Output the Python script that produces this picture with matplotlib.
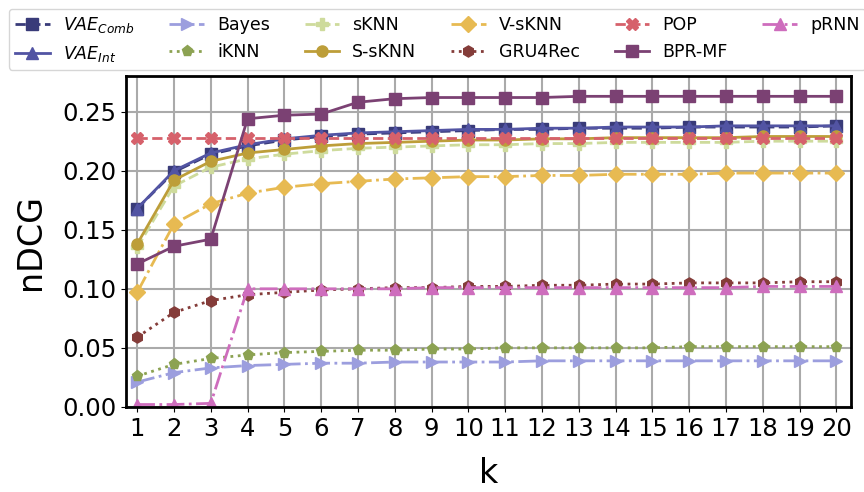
import matplotlib
matplotlib.use("Agg")
import matplotlib.pyplot as plt

k = list(range(1, 21))

vae_comb = [0.168, 0.199, 0.214, 0.221, 0.226, 0.229, 0.231, 0.232, 0.233, 0.234,
            0.235, 0.235, 0.236, 0.236, 0.236, 0.237, 0.237, 0.237, 0.237, 0.238]
vae_int = [0.168, 0.200, 0.215, 0.222, 0.227, 0.230, 0.232, 0.233, 0.234, 0.235,
           0.235, 0.236, 0.236, 0.237, 0.237, 0.237, 0.238, 0.238, 0.238, 0.238]
bayes = [0.021, 0.029, 0.033, 0.035, 0.036, 0.037, 0.037, 0.038, 0.038, 0.038,
         0.038, 0.039, 0.039, 0.039, 0.039, 0.039, 0.039, 0.039, 0.039, 0.039]
iknn = [0.026, 0.036, 0.041, 0.044, 0.046, 0.047, 0.048, 0.048, 0.049, 0.049,
        0.050, 0.050, 0.050, 0.050, 0.050, 0.051, 0.051, 0.051, 0.051, 0.051]
sknn = [0.135, 0.187, 0.203, 0.210, 0.214, 0.217, 0.219, 0.220, 0.221, 0.222,
        0.222, 0.223, 0.223, 0.224, 0.224, 0.224, 0.224, 0.225, 0.225, 0.225]
s_sknn = [0.138, 0.192, 0.208, 0.215, 0.218, 0.221, 0.223, 0.224, 0.225, 0.226,
          0.226, 0.227, 0.227, 0.228, 0.228, 0.228, 0.228, 0.229, 0.229, 0.229]
v_sknn = [0.097, 0.155, 0.172, 0.181, 0.186, 0.189, 0.191, 0.193, 0.194, 0.195,
          0.195, 0.196, 0.196, 0.197, 0.197, 0.197, 0.198, 0.198, 0.198, 0.198]
gru4rec = [0.059, 0.080, 0.090, 0.095, 0.097, 0.099, 0.100, 0.101, 0.101, 0.102,
           0.102, 0.103, 0.103, 0.104, 0.104, 0.105, 0.105, 0.105, 0.106, 0.106]
pop = [0.228] * 20
bpr_mf = [0.121, 0.136, 0.142, 0.244, 0.247, 0.248, 0.258, 0.261, 0.262, 0.262,
          0.262, 0.262, 0.263, 0.263, 0.263, 0.263, 0.263, 0.263, 0.263, 0.263]
prnn = [0.002, 0.002, 0.003, 0.100, 0.100, 0.100, 0.100, 0.100, 0.101, 0.101,
        0.101, 0.101, 0.101, 0.101, 0.101, 0.101, 0.101, 0.102, 0.102, 0.102]

series = [
    (r"$VAE_{Comb}$", vae_comb, "#393b79", "--", "s"),
    (r"$VAE_{Int}$", vae_int, "#5254a3", "-", "^"),
    ("Bayes", bayes, "#9c9ede", "-.", ">"),
    ("iKNN", iknn, "#8ca252", ":", "p"),
    ("sKNN", sknn, "#cedb9c", "--", "P"),
    ("S-sKNN", s_sknn, "#bd9e39", "-", "o"),
    ("V-sKNN", v_sknn, "#e7ba52", "-.", "D"),
    ("GRU4Rec", gru4rec, "#843c39", ":", "h"),
    ("POP", pop, "#d6616b", "--", "X"),
    ("BPR-MF", bpr_mf, "#7b4173", "-", "s"),
    ("pRNN", prnn, "#ce6dbd", "-.", "^"),
]

fig = plt.figure(figsize=(8.64, 4.92), dpi=100)
ax = fig.add_axes([0.146, 0.173, 0.839, 0.672])

for label, vals, color, ls, mk in series:
    ax.plot(k, vals, linestyle=ls, marker=mk, color=color, label=label,
            linewidth=2, markersize=8)

ax.set_xlim(0.7, 20.4)
ax.set_ylim(0, 0.28)
ax.set_xticks(k)
ax.set_yticks([0.0, 0.05, 0.10, 0.15, 0.20, 0.25])
ax.tick_params(axis="both", labelsize=17.5)
ax.set_xlabel("k", fontsize=24, labelpad=12)
ax.set_ylabel("nDCG", fontsize=24, labelpad=11)
ax.grid(True, color="#aaaaaa", linewidth=1.5)
ax.set_axisbelow(True)
for sp in ax.spines.values():
    sp.set_linewidth(2)

fig.legend(loc="upper left", bbox_to_anchor=(9 / 864, 1 - 9 / 492), ncol=6,
           fontsize=12.5, frameon=True, handlelength=2.0, handletextpad=0.75,
           columnspacing=2.0, borderaxespad=0.0, labelspacing=0.5,
           borderpad=0.35)

fig.savefig("out.png", dpi=100)
